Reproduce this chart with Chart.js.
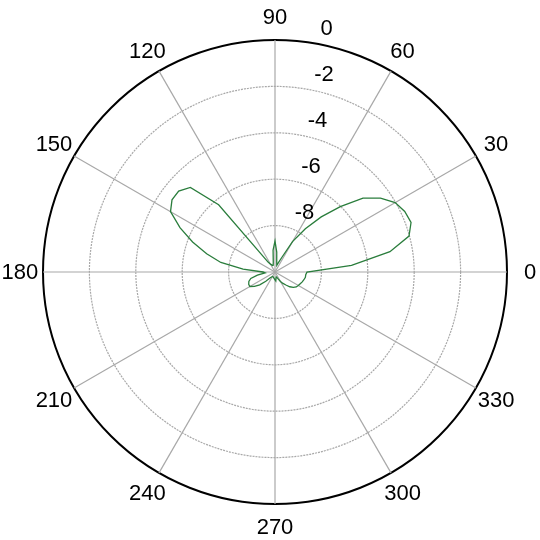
<!DOCTYPE html>
<html>
<head>
<meta charset="utf-8">
<script src="https://cdn.jsdelivr.net/npm/chart.js@4.4.0/dist/chart.umd.min.js"></script>
<style>
  html, body { margin: 0; padding: 0; background: #fff; }
  #wrap { width: 540px; height: 540px; }
</style>
</head>
<body>
<div id="wrap"><canvas id="polarChart" width="540" height="540"></canvas></div>
<script>
// Angles in degrees (counter-clockwise from the right, like MATLAB polar)
const angles = [
    0, 5, 10, 15, 20, 25, 30, 35, 40, 45, 50, 55,
    60, 65, 70, 75, 80, 85, 90, 95, 100, 105, 110, 115,
    120, 125, 130, 135, 140, 145, 150, 155, 160, 165, 170, 175,
    180, 185, 190, 195, 200, 205, 210, 215, 220, 225, 230, 235,
    240, 245, 250, 255, 260, 265, 270, 275, 280, 285, 290, 295,
    300, 305, 310, 315, 320, 325, 330, 335, 340, 345, 350, 355
];

// Pattern level in dB
const gainDb = [
    -8.62, -6.69, -4.97, -4.02, -3.76, -3.83, -4.02, -4.45, -5.05, -6.02, -6.90, -7.72,
    -8.49, -9.31, -9.57, -9.70, -9.57, -9.14, -8.67, -9.05, -9.57, -9.70, -9.70, -9.66,
    -9.61, -9.48, -6.22, -4.84, -4.58, -4.58, -4.80, -5.48, -6.22, -6.95, -7.63, -8.62,
    -9.48, -9.57, -9.23, -8.92, -8.80, -8.75, -8.75, -8.92, -9.14, -9.44, -9.66, -9.74,
    -9.78, -9.78, -9.78, -9.74, -9.74, -9.70, -9.66, -9.61, -9.74, -9.78, -9.74, -9.66,
    -9.53, -9.40, -9.27, -9.10, -8.97, -8.88, -8.84, -8.80, -8.75, -8.71, -8.67, -8.67
];

// Spoke labels and radial tick labels
const spokeLabels = [0, 30, 60, 90, 120, 150, 180, 210, 240, 270, 300, 330];
const ringValues = [-8, -6, -4, -2, 0];
const rMin = -10;
const rMax = 0;

// Chart.js radar goes clockwise, so feed the angles in reverse order
const order = angles.map((a, i) => i).sort((i, j) => ((360 - angles[i]) % 360) - ((360 - angles[j]) % 360));
const radarLabels = order.map(i => String(angles[i]));
const radarData = order.map(i => gainDb[i]);

const textFont = '22px "Liberation Sans", Arial, sans-serif';

// Draw the angle labels and the ring labels the way MATLAB places them
const polarText = {
    id: 'polarText',
    afterDraw(chart) {
        const scale = chart.scales.r;
        const c = chart.ctx;
        c.save();
        c.font = textFont;
        c.fillStyle = '#000';

        c.textAlign = 'center';
        c.textBaseline = 'middle';
        radarLabels.forEach((lab, i) => {
            if (!spokeLabels.includes(Number(lab))) return;
            const p = scale.getPointPosition(i, scale.drawingArea * 1.1);
            c.fillText(lab, p.x, p.y + 1);
        });

        const a = 82 * Math.PI / 180;
        const step = scale.drawingArea / ((rMax - rMin) / 2);
        c.textAlign = 'left';
        c.textBaseline = 'bottom';
        ringValues.forEach(v => {
            const d = scale.getDistanceFromCenterForValue(v) + step / 20;
            const x = scale.xCenter + d * Math.cos(a) + 13;
            const y = scale.yCenter - d * Math.sin(a);
            c.fillText(String(v), x, y);
        });
        c.restore();
    }
};

const ctx = document.getElementById('polarChart').getContext('2d');
const chart = new Chart(ctx, {
    type: 'radar',
    data: {
        labels: radarLabels,
        datasets: [{
            data: radarData,
            borderColor: '#2a7d3c',
            borderWidth: 1.3,
            fill: false,
            pointRadius: 0,
            tension: 0
        }]
    },
    options: {
        responsive: false,
        animation: false,
        layout: { padding: { left: 43, right: 33, top: 40, bottom: 36 } },
        plugins: {
            legend: { display: false },
            tooltip: { enabled: false }
        },
        scales: {
            r: {
                min: rMin,
                max: rMax,
                startAngle: 90,
                ticks: { display: false, stepSize: 2 },
                pointLabels: { display: false },
                grid: {
                    circular: true,
                    color: c => (c.tick && c.tick.value === rMax) ? '#000' : '#a8a8a8',
                    lineWidth: c => (c.tick && c.tick.value === rMax) ? 2 : 1.2
                },
                border: {
                    dash: c => (c.tick && c.tick.value === rMax) ? [] : [2, 1]
                },
                angleLines: {
                    color: '#a8a8a8',
                    lineWidth: c => spokeLabels.includes(Number(c.label)) ? 1.2 : 0
                }
            }
        }
    },
    plugins: [polarText]
});
</script>
</body>
</html>
